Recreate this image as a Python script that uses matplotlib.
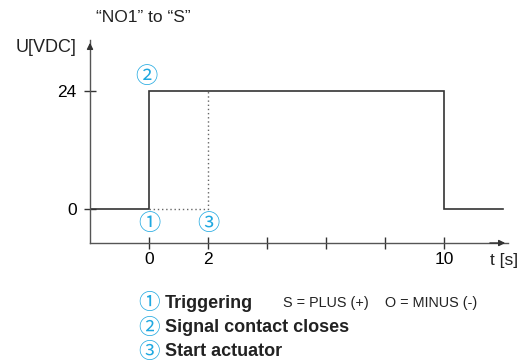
import matplotlib.pyplot as plt

plt.rcParams['font.family'] = ['Liberation Sans', 'Noto Sans CJK JP', 'DejaVu Sans']

# signal "NO1" to "S"
t_signal = [-2, 0, 0, 10, 10, 12]
u_signal = [0, 0, 24, 24, 0, 0]
# dotted helper line to start of actuator
t_dot = [0, 2, 2]
u_dot = [0, 0, 24]

x_ticks = [0, 2, 4, 6, 8, 10]
x_labels = ['0', '2', '', '', '', '10']
y_ticks = [0, 24]
y_labels = ['0', '24']

marks = [('①', 0, 0), ('②', 0, 24), ('③', 2, 0)]
legend_items = ['Triggering', 'Signal contact closes', 'Start actuator']

cyan = '#1fa8e0'
line_col = '#333333'
axis_col = '#555555'

fig = plt.figure(figsize=(5.23, 3.64), dpi=100)
W, H = 523, 364
# axes box: t from -2 (px 90) to 12.17 (px 508), U from -6.9 (px 243) to 34.4 (px 40)
ax = fig.add_axes([90 / W, (H - 243) / H, 418 / W, 203 / H])
ax.set_xlim(-2, 12.17)
ax.set_ylim(-6.9, 34.4)
ax.patch.set_alpha(0)

for s in ['top', 'right']:
    ax.spines[s].set_visible(False)
for s in ['left', 'bottom']:
    ax.spines[s].set_color(axis_col)
    ax.spines[s].set_linewidth(1.0)

ax.plot(t_signal, u_signal, color=line_col, lw=1.2, solid_joinstyle='miter')
ax.plot(t_dot, u_dot, color='#666666', lw=1.0, ls=(0, (1, 2)))

ax.set_xticks(x_ticks)
ax.set_xticklabels(x_labels, fontsize=12.5)
ax.set_yticks(y_ticks)
ax.set_yticklabels(y_labels, fontsize=12.5)
ax.tick_params(direction='inout', length=9, width=1.0, color=line_col, pad=2)
ax.tick_params(axis='y', pad=5)

# arrow heads
ax.annotate('', xy=(1, 0), xycoords='axes fraction', xytext=(0.95, 0),
            arrowprops=dict(arrowstyle='-|>', color=line_col, lw=1.0, mutation_scale=9))
ax.annotate('', xy=(0, 1), xycoords='axes fraction', xytext=(0, 0.95),
            arrowprops=dict(arrowstyle='-|>', color=line_col, lw=1.0, mutation_scale=9))

ax.text(11.55, -8.9, 't [s]', fontsize=12.5, ha='left', va='top', color='#222222')
fig.text(16 / W, 1 - 47 / H, 'U[VDC]', fontsize=13, ha='left',
         va='center', color='#222222')
fig.text(143 / W, 1 - 18 / H, '\u201cNO1\u201d to \u201cS\u201d', fontsize=12.5,
         ha='center', va='center', color='#222222')

offs = {'①': (0, -3.0), '②': (-0.1, 3.0), '③': (0, -3.0)}
for lbl, tx, uy in marks:
    dx, dy = offs[lbl]
    ax.text(tx + dx, uy + dy, lbl, fontsize=16, color=cyan, ha='center', va='center',
            family=['Noto Sans CJK JP', 'DejaVu Sans'])

rows_y = [303, 328, 352]
for (lbl, _, _), item, py in zip(marks, legend_items, rows_y):
    fig.text(149 / W, 1 - py / H, lbl, fontsize=15.5, color=cyan, ha='center',
             va='center', family=['Noto Sans CJK JP', 'DejaVu Sans'])
    fig.text(165 / W, 1 - py / H, item, fontsize=13, fontweight='bold',
             color='#222222', ha='left', va='center')
fig.text(283 / W, 1 - 303 / H, 'S = PLUS (+)', fontsize=10.4, color='#222222',
         ha='left', va='center')
fig.text(385 / W, 1 - 303 / H, 'O = MINUS (-)', fontsize=10.4, color='#222222',
         ha='left', va='center')

fig.savefig('out.png', dpi=100)
